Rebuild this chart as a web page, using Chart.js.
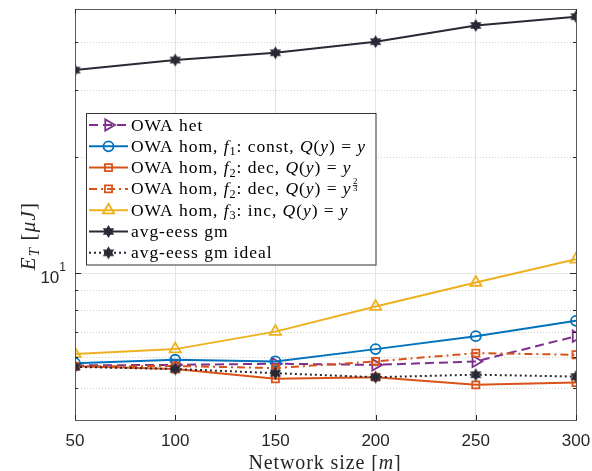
<!DOCTYPE html>
<html>
<head>
<meta charset="utf-8">
<script src="https://cdn.jsdelivr.net/npm/chart.js@4.4.0/dist/chart.umd.min.js"></script>
<style>
  html, body { margin: 0; padding: 0; background: #fff; }
  #wrap { width: 592px; height: 471px; position: relative; }
</style>
</head>
<body>
<div id="wrap"><canvas id="chart"></canvas></div>
<script>
// x axis: network size m
const networkSize = [50, 100, 150, 200, 250, 300];

// E_T in µJ
const owaHet         = [5.72, 5.74, 5.78, 5.74, 5.86, 6.82];
const owaHomF1       = [5.80, 5.92, 5.86, 6.31, 6.82, 7.48];
const owaHomF2       = [5.69, 5.60, 5.28, 5.33, 5.09, 5.16];
const owaHomF2Pow    = [5.69, 5.70, 5.63, 5.86, 6.16, 6.10];
const owaHomF3       = [6.13, 6.31, 7.01, 8.15, 9.42, 10.83];
const avgEessGm      = [33.8, 35.9, 37.5, 40.1, 44.2, 46.6];
const avgEessGmIdeal = [5.67, 5.60, 5.46, 5.33, 5.41, 5.35];

// axis ticks / limits
const xTicks = [50, 100, 150, 200, 250, 300];
const yMajorTicks = [10];
const yMinorTicks = [5, 6, 7, 8, 9, 20, 30, 40];
const yMin = 4.12, yMax = 48.8;

const SERIF = '"Liberation Serif", "DejaVu Serif", serif';
const SANS = '"Liberation Sans", Arial, sans-serif';
const DARK = '#292935';

// filled six-pointed star (matlab 'hexagram')
function makeHexagram(r, color) {
  const s = Math.ceil(r * 2 + 2);
  const c = document.createElement('canvas');
  c.width = s; c.height = s;
  const g = c.getContext('2d');
  g.fillStyle = color;
  g.beginPath();
  for (let i = 0; i < 12; i++) {
    const a = -Math.PI / 2 + i * Math.PI / 6;
    const rr = i % 2 === 0 ? r : r * 0.58;
    const px = s / 2 + rr * Math.cos(a), py = s / 2 + rr * Math.sin(a);
    if (i === 0) g.moveTo(px, py); else g.lineTo(px, py);
  }
  g.closePath();
  g.fill();
  return c;
}
const hexStar = makeHexagram(6.5, DARK);

function series(label, values, color, extra) {
  return Object.assign({
    label: label,
    data: networkSize.map((x, i) => ({ x: x, y: values[i] })),
    borderColor: color,
    backgroundColor: color,
    borderWidth: 2,
    pointBorderColor: color,
    pointBackgroundColor: 'rgba(255,255,255,0)',
    pointBorderWidth: 1.8,
    tension: 0
  }, extra);
}

// legend labels as runs of text (i = italic, sub / sup / frac)
const legendLabels = [
  [{ t: 'OWA het' }],
  [{ t: 'OWA hom, ' }, { t: 'f', i: 1 }, { t: '1', sub: 1 }, { t: ': const, ' }, { t: 'Q', i: 1 }, { t: '(' }, { t: 'y', i: 1 }, { t: ') = ' }, { t: 'y', i: 1 }],
  [{ t: 'OWA hom, ' }, { t: 'f', i: 1 }, { t: '2', sub: 1 }, { t: ': dec, ' }, { t: 'Q', i: 1 }, { t: '(' }, { t: 'y', i: 1 }, { t: ') = ' }, { t: 'y', i: 1 }],
  [{ t: 'OWA hom, ' }, { t: 'f', i: 1 }, { t: '2', sub: 1 }, { t: ': dec, ' }, { t: 'Q', i: 1 }, { t: '(' }, { t: 'y', i: 1 }, { t: ') = ' }, { t: 'y', i: 1 }, { frac: ['2', '3'] }],
  [{ t: 'OWA hom, ' }, { t: 'f', i: 1 }, { t: '3', sub: 1 }, { t: ': inc, ' }, { t: 'Q', i: 1 }, { t: '(' }, { t: 'y', i: 1 }, { t: ') = ' }, { t: 'y', i: 1 }],
  [{ t: 'avg-eess gm' }],
  [{ t: 'avg-eess gm ideal' }]
];

function drawRich(ctx, segs, x, y, size, measureOnly, spacing) {
  ctx.letterSpacing = (spacing || 0) + 'px';
  for (const s of segs) {
    if (s.frac) {
      const fs = size * 0.5;
      ctx.letterSpacing = '0px';
      ctx.font = fs + 'px ' + SERIF;
      const w = Math.max(ctx.measureText(s.frac[0]).width, ctx.measureText(s.frac[1]).width);
      if (!measureOnly) {
        ctx.textAlign = 'center';
        ctx.fillText(s.frac[0], x + 1.5 + w / 2, y - size * 0.62);
        ctx.fillText(s.frac[1], x + 1.5 + w / 2, y - size * 0.2);
        ctx.fillRect(x + 1.5, y - size * 0.52, w, 0.8);
        ctx.textAlign = 'left';
      }
      x += w + 3;
      ctx.letterSpacing = (spacing || 0) + 'px';
      continue;
    }
    let fs = size, dy = 0;
    if (s.sub) { fs = size * 0.7; dy = size * 0.2; }
    if (s.sup) { fs = size * 0.7; dy = -size * 0.4; }
    ctx.font = (s.i ? 'italic ' : '') + fs + 'px ' + SERIF;
    if (!measureOnly) ctx.fillText(s.t, x, y + dy);
    x += ctx.measureText(s.t).width;
  }
  ctx.letterSpacing = '0px';
  return x;
}

const decorPlugin = {
  id: 'decor',
  beforeDatasetsDraw(chart) {
    const { ctx, chartArea: a, scales: { y } } = chart;
    ctx.save();
    ctx.lineWidth = 1;
    // minor grid (dotted)
    ctx.strokeStyle = '#cfcfcf';
    ctx.setLineDash([1, 2]);
    yMinorTicks.forEach(v => {
      const py = Math.round(y.getPixelForValue(v)) + 0.5;
      ctx.beginPath(); ctx.moveTo(a.left, py); ctx.lineTo(a.right, py); ctx.stroke();
    });
    // major grid (solid)
    ctx.setLineDash([]);
    ctx.strokeStyle = '#e6e6e6';
    yMajorTicks.forEach(v => {
      const py = Math.round(y.getPixelForValue(v)) + 0.5;
      ctx.beginPath(); ctx.moveTo(a.left, py); ctx.lineTo(a.right, py); ctx.stroke();
    });
    ctx.restore();
  },
  afterDatasetsDraw(chart) {
    const { ctx, chartArea: a, scales: { x, y } } = chart;
    ctx.save();
    // axes box
    ctx.strokeStyle = '#5a5a5a';
    ctx.lineWidth = 1;
    ctx.strokeRect(a.left + 0.5, a.top + 0.5, a.right - a.left, a.bottom - a.top);
    // inward ticks
    ctx.strokeStyle = '#262626';
    ctx.beginPath();
    xTicks.forEach(v => {
      const px = Math.round(x.getPixelForValue(v)) + 0.5;
      ctx.moveTo(px, a.bottom); ctx.lineTo(px, a.bottom - 5);
      ctx.moveTo(px, a.top); ctx.lineTo(px, a.top + 5);
    });
    yMajorTicks.forEach(v => {
      const py = Math.round(y.getPixelForValue(v)) + 0.5;
      ctx.moveTo(a.left, py); ctx.lineTo(a.left + 6, py);
      ctx.moveTo(a.right, py); ctx.lineTo(a.right - 6, py);
    });
    yMinorTicks.forEach(v => {
      const py = Math.round(y.getPixelForValue(v)) + 0.5;
      ctx.moveTo(a.left, py); ctx.lineTo(a.left + 3, py);
      ctx.moveTo(a.right, py); ctx.lineTo(a.right - 3, py);
    });
    ctx.stroke();

    // y tick label 10^1
    ctx.fillStyle = '#262626';
    ctx.textBaseline = 'alphabetic';
    yMajorTicks.forEach(v => {
      const py = y.getPixelForValue(v);
      const exp = Math.round(Math.log10(v));
      ctx.font = '12px ' + SANS;
      const ew = ctx.measureText(String(exp)).width;
      ctx.textAlign = 'right';
      ctx.fillText(String(exp), a.left - 9, py - 2);
      ctx.font = '17px ' + SANS;
      ctx.fillText('10', a.left - 9 - ew, py + 10);
    });
    ctx.textAlign = 'left';

    // axis titles
    ctx.fillStyle = '#262626';
    const xt = [{ t: 'Network size [' }, { t: 'm', i: 1 }, { t: ']' }];
    const xw = drawRich(ctx, xt, 0, 0, 20, true, 0.9);
    drawRich(ctx, xt, 325 - xw / 2, 469, 20, false, 0.9);
    const yt = [{ t: 'E', i: 1 }, { t: 'T', i: 1, sub: 1 }, { t: ' [' }, { t: 'μJ', i: 1 }, { t: ']' }];
    const yw = drawRich(ctx, yt, 0, 0, 21, true, 1.2);
    ctx.save();
    ctx.translate(35, 236);
    ctx.rotate(-Math.PI / 2);
    drawRich(ctx, yt, -yw / 2, 0, 21, false, 1.2);
    ctx.restore();

    // legend box
    const lx = 86.5, ly = 113.5, lw = 289.5, lh = 151.5;
    ctx.fillStyle = '#fff';
    ctx.fillRect(lx, ly, lw, lh);
    ctx.strokeStyle = '#333';
    ctx.lineWidth = 1;
    ctx.strokeRect(lx, ly, lw, lh);
    chart.data.datasets.forEach((ds, i) => {
      const cy = 125 + i * 21.3;
      ctx.save();
      ctx.strokeStyle = ds.borderColor;
      ctx.lineWidth = ds.borderWidth;
      ctx.setLineDash(ds.borderDash || []);
      ctx.beginPath(); ctx.moveTo(89, cy); ctx.lineTo(128, cy); ctx.stroke();
      ctx.setLineDash([]);
      ctx.strokeStyle = ds.pointBorderColor;
      ctx.fillStyle = ds.pointBackgroundColor;
      ctx.lineWidth = ds.pointBorderWidth;
      Chart.helpers.drawPoint(ctx, {
        pointStyle: ds.pointStyle, radius: ds.pointRadius,
        rotation: ds.pointRotation || 0, borderWidth: ds.pointBorderWidth
      }, 108.5, cy);
      ctx.restore();
      ctx.fillStyle = '#000';
      ctx.textBaseline = 'alphabetic';
      drawRich(ctx, legendLabels[i], 131, cy + 5.5, 17.5, false, 0.95);
    });
    ctx.restore();
  }
};

const datasets = [
  series('OWA het', owaHet, '#7E2F8E', { borderDash: [9, 5], pointStyle: 'triangle', pointRotation: 90, pointRadius: 6.5, order: 6 }),
  series('OWA hom, f1: const, Q(y) = y', owaHomF1, '#0072BD', { pointStyle: 'circle', pointRadius: 5, order: 5 }),
  series('OWA hom, f2: dec, Q(y) = y', owaHomF2, '#D95319', { pointStyle: 'rect', pointRadius: 5, order: 4 }),
  series('OWA hom, f2: dec, Q(y) = y^(2/3)', owaHomF2Pow, '#D95319', { borderDash: [8, 4, 2, 4], pointStyle: 'rect', pointRadius: 5, order: 3 }),
  series('OWA hom, f3: inc, Q(y) = y', owaHomF3, '#EDB120', { pointStyle: 'triangle', pointRadius: 6.5, order: 2 }),
  series('avg-eess gm', avgEessGm, DARK, { pointStyle: hexStar, pointRadius: 6, order: 1 }),
  series('avg-eess gm ideal', avgEessGmIdeal, DARK, { borderDash: [2, 3], pointStyle: hexStar, pointRadius: 6, order: 0 })
];

new Chart(document.getElementById('chart'), {
  type: 'line',
  data: { datasets: datasets },
  options: {
    responsive: true,
    maintainAspectRatio: false,
    devicePixelRatio: 1,
    animation: false,
    layout: { padding: { left: 0, right: 6, top: 9, bottom: 0 } },
    plugins: { legend: { display: false }, tooltip: { enabled: false } },
    scales: {
      x: {
        type: 'linear',
        min: 50, max: 300,
        afterFit: s => { s.height = 51; s.paddingRight = 16; },
        afterBuildTicks: s => { s.ticks = xTicks.map(v => ({ value: v })); },
        grid: { color: '#e4e4e4', drawTicks: false },
        border: { display: false },
        ticks: { color: '#262626', font: { family: SANS, size: 17 }, padding: 11, maxRotation: 0, autoSkip: false }
      },
      y: {
        type: 'logarithmic',
        min: yMin, max: yMax,
        afterFit: s => { s.width = 75; },
        grid: { display: false },
        border: { display: false },
        ticks: { display: false }
      }
    }
  },
  plugins: [decorPlugin]
});
</script>
</body>
</html>
